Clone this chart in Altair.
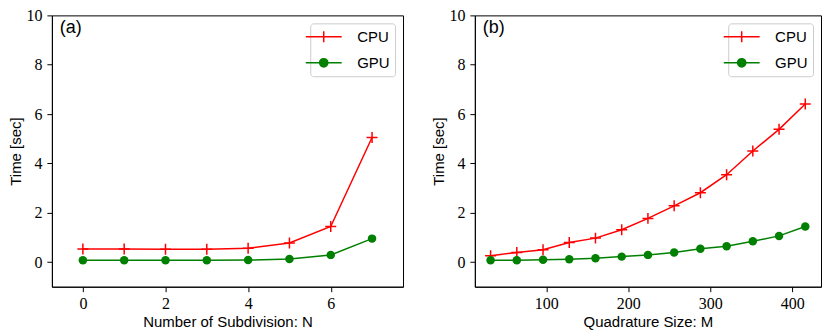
import altair as alt
import pandas as pd

# ---- data ----
n_sub = [0, 1, 2, 3, 4, 5, 6, 7]
cpu_a = [0.53, 0.53, 0.52, 0.52, 0.56, 0.77, 1.44, 5.05]
gpu_a = [0.07, 0.07, 0.07, 0.07, 0.08, 0.12, 0.29, 0.95]

quad = [32, 64, 96, 128, 160, 192, 224, 256, 288, 320, 352, 384, 416]
cpu_b = [0.26, 0.39, 0.50, 0.79, 0.97, 1.31, 1.77, 2.28, 2.81, 3.54, 4.50, 5.38, 6.41]
gpu_b = [0.07, 0.07, 0.09, 0.11, 0.15, 0.22, 0.29, 0.39, 0.54, 0.64, 0.84, 1.06, 1.44]

series = ["CPU", "GPU"]
colors = ["#ff0000", "#008000"]
y_ticks = [0, 2, 4, 6, 8, 10]
x_ticks_a = [0, 2, 4, 6]
x_ticks_b = [100, 200, 300, 400]

PLUS = "M-1,0H1M0,-1V1"
# legend symbols: nominal size 15px (scale 7.5), drawn 36px wide
LEG_CPU = "M-2.4,0H2.4M0,-0.73V0.73"
LEG_GPU = "M-2.4,0H2.4M0.55,0A0.55,0.55,0,1,1,-0.55,0A0.55,0.55,0,1,1,0.55,0Z"

TICK_FONT = "Liberation Serif"
TEXT_FONT = "Liberation Sans"


def long_df(xs, cpu, gpu):
    rows = []
    for x, v in zip(xs, cpu):
        rows.append({"x": x, "series": "CPU", "t": v})
    for x, v in zip(xs, gpu):
        rows.append({"x": x, "series": "GPU", "t": v})
    return pd.DataFrame(rows)


def panel(df, xdom, xticks, xtitle, tag, w, h):
    xenc = alt.X("x:Q", scale=alt.Scale(domain=xdom, nice=False, zero=False),
                 axis=alt.Axis(values=xticks, title=xtitle, format="d",
                               labelFont=TICK_FONT, labelFontSize=16,
                               labelPadding=4, titlePadding=3))
    yenc = alt.Y("t:Q", scale=alt.Scale(domain=[-1, 10], nice=False, zero=False),
                 axis=alt.Axis(values=y_ticks, title="Time [sec]", format="d",
                               labelFont=TICK_FONT, labelFontSize=16,
                               labelPadding=5, titlePadding=2))
    base = alt.Chart(df).encode(x=xenc, y=yenc)
    cpu = base.transform_filter(alt.datum.series == "CPU")
    gpu = base.transform_filter(alt.datum.series == "GPU")
    cpu_line = cpu.mark_line(color=colors[0], strokeWidth=1.5)
    cpu_pts = cpu.mark_point(shape=PLUS, size=121, filled=False, color=colors[0],
                             strokeWidth=1.5, opacity=1)
    gpu_line = gpu.mark_line(color=colors[1], strokeWidth=1.5)
    gpu_pts = gpu.mark_circle(size=72, color=colors[1], opacity=1)

    leg = alt.Legend(title=None, orient="top-right", offset=8, padding=5,
                     fillColor="white", strokeColor="#cccccc", cornerRadius=3,
                     labelFont=TEXT_FONT, labelFontSize=15, labelColor="black",
                     symbolSize=225, symbolStrokeWidth=1.5, labelOffset=25,
                     rowPadding=9)
    legend_layer = base.transform_filter("false").mark_point(
        filled=True, size=225, opacity=1, strokeWidth=1.5).encode(
        fill=alt.Fill("series:N", scale=alt.Scale(domain=series, range=colors), legend=leg),
        stroke=alt.Stroke("series:N", scale=alt.Scale(domain=series, range=colors), legend=leg),
        shape=alt.Shape("series:N", scale=alt.Scale(domain=series, range=[LEG_CPU, LEG_GPU]), legend=leg),
    )
    tag_text = alt.Chart(alt.Data(values=[{"lab": tag}])).mark_text(
        align="left", baseline="middle", font=TEXT_FONT, fontSize=18, color="black"
    ).encode(x=alt.value(8), y=alt.value(13), text="lab:N")

    return alt.layer(cpu_line, cpu_pts, gpu_line, gpu_pts, legend_layer, tag_text).properties(
        width=w, height=h)


left = panel(long_df(n_sub, cpu_a, gpu_a), [-0.75, 7.75], x_ticks_a,
             "Number of Subdivision:  N", "(a)", 352, 272)
right = panel(long_df(quad, cpu_b, gpu_b), [12.8, 435.2], x_ticks_b,
              "Quadrature Size:  M", "(b)", 347, 272)

chart = alt.hconcat(left, right, spacing=72, bounds="flush").resolve_scale(
    fill="independent", stroke="independent", shape="independent"
).properties(
    padding={"left": 0, "top": -2, "right": 1, "bottom": 0}
).configure_view(stroke="black", strokeWidth=1).configure_axis(
    grid=False, domainColor="black", domainWidth=1, tickColor="black", tickWidth=1,
    tickSize=5, labelFont=TICK_FONT, labelFontSize=16, labelColor="black",
    titleFont=TEXT_FONT, titleFontSize=15,
    titleFontWeight="normal", titleColor="black"
)

chart.save("out.html", embed_options={"renderer": "svg", "actions": False})
